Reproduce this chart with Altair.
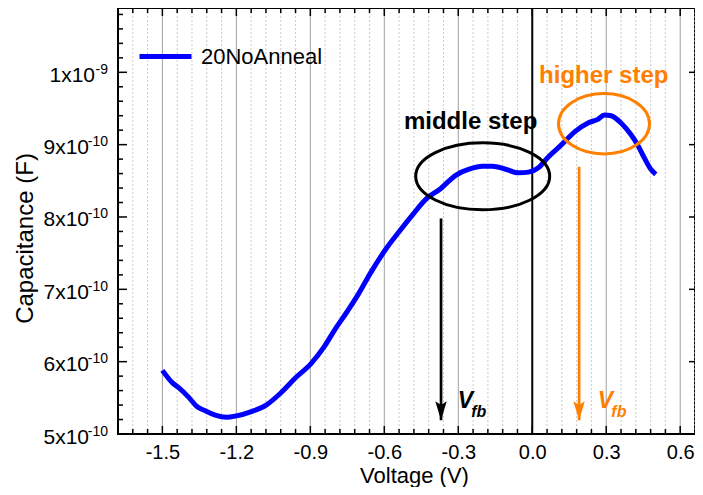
import altair as alt
import pandas as pd

# ---------------- data (capacitance in units of 1e-10 F) ----------------
voltage = [-1.50, -1.46, -1.434, -1.394, -1.360, -1.326, -1.286, -1.240, -1.200, -1.139,
           -1.079, -1.019, -0.959, -0.898, -0.845, -0.801, -0.751, -0.704, -0.657, -0.597,
           -0.537, -0.483, -0.430, -0.376, -0.309, -0.256, -0.202, -0.162, -0.108, -0.055,
           -0.015, 0.025, 0.065, 0.119, 0.173, 0.226, 0.266, 0.293, 0.320, 0.360,
           0.400, 0.427, 0.454, 0.481, 0.501]
capacitance = [5.88, 5.71, 5.64, 5.51, 5.38, 5.32, 5.26, 5.23, 5.25, 5.31,
               5.40, 5.57, 5.78, 5.97, 6.20, 6.44, 6.69, 6.94, 7.22, 7.54,
               7.81, 8.04, 8.25, 8.38, 8.58, 8.66, 8.70, 8.70, 8.66, 8.61,
               8.62, 8.68, 8.83, 9.00, 9.18, 9.30, 9.35, 9.41, 9.40, 9.30,
               9.14, 9.00, 8.82, 8.66, 8.59]
series_name = "20NoAnneal"

x_major = [-1.5, -1.2, -0.9, -0.6, -0.3, 0.0, 0.3, 0.6]
x_minor = [round(-1.62 + 0.06 * i, 2) for i in range(39)]
x_minor = [v for v in x_minor if all(abs(v - m) > 1e-6 for m in x_major)]
x_grid_gray = [v for v in x_major if v != 0.0]
x_zero = [0.0]

y_major = [5, 6, 7, 8, 9, 10]
y_minor = [round(5 + 0.2 * i, 1) for i in range(30)]
y_minor = [v for v in y_minor if abs(v - round(v)) > 1e-6]
y_main_lab = ["5x10", "6x10", "7x10", "8x10", "9x10", "1x10"]
y_exp_lab = ["-10", "-10", "-10", "-10", "-10", "-9"]

# annotations
ell_mid_x, ell_mid_y = [-0.201], [8.562]
ell_high_x, ell_high_y = [0.291], [9.289]
arrow_black_x, arrow_black_top, arrow_black_tip = [-0.37], [7.98], [5.19]
arrow_orange_x, arrow_orange_top, arrow_orange_tip = [0.19], [8.695], [5.19]
txt_mid = {"t": ["middle step"], "x": [-0.250], "y": [9.217]}
txt_high = {"t": ["higher step"], "x": [0.290], "y": [9.848]}
vfb_black = {"x": [-0.302], "y": [5.357]}
vfb_orange = {"x": [0.266], "y": [5.357]}

ORANGE = "#ff8000"
BLUE = "#0000ff"
FONT = "Liberation Sans"
W, H = 577, 426

# ---------------- scales / axes ----------------
xs = alt.Scale(domain=[-1.68, 0.66], nice=False, zero=False)
ys = alt.Scale(domain=[5, 10.889], nice=False, zero=False)
x_axis = alt.Axis(values=x_major, labelExpr="replace(format(datum.value, '.1f'), '\u2212', '-')",
                  ticks=False, tickSize=0, domain=False, grid=False, labelFontSize=20,
                  labelPadding=8, labelColor="black", labelFlush=False, labelOverlap=False,
                  title="Voltage (V)", titleFontSize=22, titleFontWeight="normal",
                  titleX=296, titleY=48, titleBaseline="alphabetic", titleColor="black")
y_axis = alt.Axis(labels=False, ticks=False, tickSize=0, domain=False, grid=False,
                  title="Capacitance (F)", titleFontSize=24, titleFontWeight="normal",
                  titleAngle=270, titleX=-86, titleY=230, titleBaseline="alphabetic",
                  titleAlign="center", titleColor="black")


def X(f="x"):
    return alt.X(f"{f}:Q", scale=xs, axis=x_axis)


def Y(f="y"):
    return alt.Y(f"{f}:Q", scale=ys, axis=y_axis)


curve_df = pd.DataFrame({"x": voltage, "y": capacitance, "series": series_name})

layers = []
# grid
layers.append(alt.Chart(pd.DataFrame({"x": x_minor})).mark_rule(
    color="#cccccc", strokeDash=[2, 2], strokeWidth=1).encode(x=X()))
layers.append(alt.Chart(pd.DataFrame({"x": x_grid_gray})).mark_rule(
    color="#a0a0a0", strokeWidth=1).encode(x=X()))
layers.append(alt.Chart(pd.DataFrame({"x": x_zero})).mark_rule(
    color="black", strokeWidth=2).encode(x=X()))

# curve
layers.append(alt.Chart(curve_df).mark_line(strokeWidth=5, interpolate="monotone").encode(
    x=X(), y=Y(),
    color=alt.Color("series:N", scale=alt.Scale(domain=[series_name], range=[BLUE]),
                    legend=alt.Legend(orient="none", legendX=19, legendY=20, title=None,
                                      symbolType="stroke", symbolSize=2704, symbolStrokeWidth=5,
                                      labelFontSize=22, labelFont=FONT, labelOffset=7,
                                      padding=0, labelColor="black"))))

# ellipses
ell_mid_shape = "M-1,0 A1,0.5 0 0,1 1,0 A1,0.5 0 0,1 -1,0 Z"
ell_high_shape = "M-1,0 A1,0.664 0 0,1 1,0 A1,0.664 0 0,1 -1,0 Z"
layers.append(alt.Chart(pd.DataFrame({"x": ell_mid_x, "y": ell_mid_y})).mark_point(
    shape=ell_mid_shape, size=17956, filled=False, color="black", strokeWidth=3, opacity=1
).encode(x=X(), y=Y()))
layers.append(alt.Chart(pd.DataFrame({"x": ell_high_x, "y": ell_high_y})).mark_point(
    shape=ell_high_shape, size=8281, filled=False, color=ORANGE, strokeWidth=3, opacity=1
).encode(x=X(), y=Y()))

# arrows
head = "M0,0 L-0.6,-2 L0,-1.6 L0.6,-2 Z"
for ax, top, tip, col in [(arrow_black_x, arrow_black_top, arrow_black_tip, "black"),
                          (arrow_orange_x, arrow_orange_top, arrow_orange_tip, ORANGE)]:
    adf = pd.DataFrame({"x": ax, "y1": top, "y2": tip})
    layers.append(alt.Chart(adf).mark_rule(color=col, strokeWidth=2.7).encode(
        x=X(), y=Y("y1"), y2=alt.Y2("y2:Q")))
    layers.append(alt.Chart(adf).mark_point(shape=head, size=361, filled=True, color=col,
                                            opacity=1, strokeWidth=0).encode(x=X(), y=Y("y2")))

# texts
layers.append(alt.Chart(pd.DataFrame(txt_mid)).mark_text(
    font=FONT, fontSize=24, fontWeight="bold", color="black", align="center",
    baseline="alphabetic").encode(x=X(), y=Y(), text="t:N"))
layers.append(alt.Chart(pd.DataFrame(txt_high)).mark_text(
    font=FONT, fontSize=24, fontWeight="bold", color=ORANGE, align="center",
    baseline="alphabetic").encode(x=X(), y=Y(), text="t:N"))
for d, col in [(vfb_black, "black"), (vfb_orange, ORANGE)]:
    vdf = pd.DataFrame(d)
    layers.append(alt.Chart(vdf).mark_text(
        text="V", font=FONT, fontSize=23, fontWeight="bold", fontStyle="italic", color=col,
        align="left", baseline="alphabetic").encode(x=X(), y=Y()))
    layers.append(alt.Chart(vdf).mark_text(
        text="fb", font=FONT, fontSize=16, fontWeight="bold", fontStyle="italic", color=col,
        align="left", baseline="alphabetic", dx=13.5, dy=9.3).encode(x=X(), y=Y()))

# ticks (inward)
tk = dict(color="black", strokeWidth=1.5)
layers.append(alt.Chart(pd.DataFrame({"x": x_major})).mark_rule(**tk).encode(
    x=X(), y=alt.value(H), y2=alt.value(H - 8)))
layers.append(alt.Chart(pd.DataFrame({"x": x_minor})).mark_rule(**tk).encode(
    x=X(), y=alt.value(H), y2=alt.value(H - 5)))
layers.append(alt.Chart(pd.DataFrame({"x": x_major})).mark_rule(**tk).encode(
    x=X(), y=alt.value(0), y2=alt.value(8)))
layers.append(alt.Chart(pd.DataFrame({"x": x_minor})).mark_rule(**tk).encode(
    x=X(), y=alt.value(0), y2=alt.value(5)))
layers.append(alt.Chart(pd.DataFrame({"y": y_major})).mark_rule(**tk).encode(
    y=Y(), x=alt.value(0), x2=alt.value(9)))
layers.append(alt.Chart(pd.DataFrame({"y": y_minor})).mark_rule(**tk).encode(
    y=Y(), x=alt.value(0), x2=alt.value(5)))
layers.append(alt.Chart(pd.DataFrame({"y": y_major})).mark_rule(**tk).encode(
    y=Y(), x=alt.value(W), x2=alt.value(W - 6)))

# y tick labels with superscript exponents
ylab_df = pd.DataFrame({"y": y_major, "main": y_main_lab, "exp": y_exp_lab})
base_lab = alt.Chart(ylab_df)
layers.append(base_lab.transform_filter("length(datum.exp) == 3").mark_text(
    font=FONT, fontSize=21, align="right", baseline="alphabetic", dy=9.5, color="black"
).encode(y=Y(), x=alt.value(-29), text="main:N"))
layers.append(base_lab.transform_filter("length(datum.exp) == 2").mark_text(
    font=FONT, fontSize=21, align="right", baseline="alphabetic", dy=9.5, color="black"
).encode(y=Y(), x=alt.value(-23), text="main:N"))
layers.append(base_lab.mark_text(
    font=FONT, fontSize=14, align="right", baseline="alphabetic", dy=1.5, color="black"
).encode(y=Y(), x=alt.value(-10), text="exp:N"))

chart = alt.layer(*layers).properties(
    width=W, height=H,
    padding={"left": 110, "top": 0, "right": 0, "bottom": 53},
    autosize=alt.AutoSizeParams(type="none"),
).configure(font=FONT).configure_view(stroke="black", strokeWidth=2).configure_axis(
    labelFont=FONT, titleFont=FONT)

chart.save("out.html", embed_options={"renderer": "svg", "actions": False})
